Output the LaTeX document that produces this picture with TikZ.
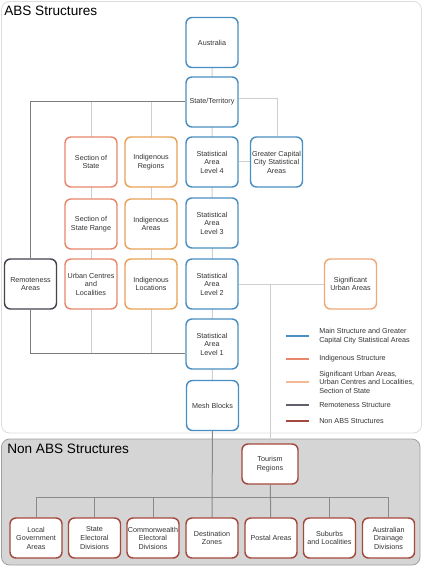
\documentclass[tikz,border=0pt]{standalone}
\usepackage{fontspec}
\setmainfont{Liberation Sans}
\definecolor{mainblue}{HTML}{4A8FC2}
\definecolor{sosorange}{HTML}{E8866C}
\definecolor{indorange}{HTML}{E8A257}
\definecolor{suaorange}{HTML}{F0A878}
\definecolor{remgray}{HTML}{45434F}
\definecolor{nonred}{HTML}{A4493D}
\definecolor{lightline}{HTML}{CFCFCF}
\definecolor{darkline}{HTML}{8A8A8A}
\definecolor{panelgray}{HTML}{D5D5D5}
\definecolor{panelborder}{HTML}{DDDDDD}
\definecolor{txt}{HTML}{333333}
\pgfdeclarelayer{background}
\pgfdeclarelayer{lines}
\pgfsetlayers{background,lines,main}
\begin{document}
\begin{tikzpicture}[x=0.75pt,y=-0.75pt,
    box/.style={draw,fill=white,rounded corners=4.5pt,line width=1.1pt,minimum width=39pt,minimum height=37.5pt,
      inner sep=0pt,align=center,text=txt,font=\fontsize{5.4}{6.4}\selectfont},
    mainbox/.style={box,draw=mainblue},
    sosbox/.style={box,draw=sosorange},
    indbox/.style={box,draw=indorange},
    suabox/.style={box,draw=suaorange},
    rembox/.style={box,draw=remgray},
    nonbox/.style={box,draw=nonred},
    title/.style={anchor=west,inner sep=0pt,text=black,font=\fontsize{10.2}{12}\selectfont},
    legtext/.style={anchor=west,inner sep=0pt,align=left,text=txt,font=\fontsize{5.4}{6.4}\selectfont},
    thin line/.style={lightline,line width=0.75pt},
    rem line/.style={darkline!90!black,line width=0.75pt},
    non line/.style={darkline,line width=0.75pt}]
  \useasboundingbox (0,0) rectangle (424,566);
  \begin{pgfonlayer}{background}
    \draw[panelborder,fill=white,rounded corners=6pt,line width=0.6pt] (1.5,1.5) rectangle (421.5,433);
    \draw[draw=darkline!80,fill=panelgray,rounded corners=6pt,line width=0.6pt] (1.5,439) rectangle (420,565);
  \end{pgfonlayer}
  \node[title] (abstitle) at (4,11) {ABS Structures};
  \node[title] (nontitle) at (7,449) {Non ABS Structures};

  \node[mainbox] (aus) at (212,42.5) {Australia};
  \node[mainbox] (ste) at (212,102) {State/Territory};
  \node[mainbox] (sa4) at (212,162) {Statistical\\Area\\Level 4};
  \node[mainbox] (gccsa) at (276.5,162) {Greater Capital\\City Statistical\\Areas};
  \node[indbox] (indreg) at (151,162) {Indigenous\\Regions};
  \node[sosbox] (sos) at (91,162) {Section of\\State};
  \node[sosbox] (sosr) at (91,224) {Section of\\State Range};
  \node[indbox] (indarea) at (151,224) {Indigenous\\Areas};
  \node[mainbox] (sa3) at (212,223) {Statistical\\Area\\Level 3};
  \node[rembox] (rem) at (30.5,284) {Remoteness\\Areas};
  \node[sosbox] (ucl) at (91,284) {Urban Centres\\and\\Localities};
  \node[indbox] (indloc) at (151,284) {Indigenous\\Locations};
  \node[mainbox] (sa2) at (212,284) {Statistical\\Area\\Level 2};
  \node[suabox] (sua) at (350.5,284) {Significant\\Urban Areas};
  \node[mainbox] (sa1) at (212,344) {Statistical\\Area\\Level 1};
  \node[mainbox] (mb) at (212.5,405.5) {Mesh Blocks};

  \node[nonbox,minimum width=42pt,minimum height=30pt] (tour) at (270,464) {Tourism\\Regions};
  \node[nonbox,minimum height=30pt] (lga) at (36,538) {Local\\Government\\Areas};
  \node[nonbox,minimum height=30pt] (sed) at (94.5,538) {State\\Electoral\\Divisions};
  \node[nonbox,minimum height=30pt] (ced) at (153,538) {Commonwealth\\Electoral\\Divisions};
  \node[nonbox,minimum height=30pt] (dz) at (212,538) {Destination\\Zones};
  \node[nonbox,minimum height=30pt] (pa) at (271,538) {Postal Areas};
  \node[nonbox,minimum height=30pt] (sl) at (329.5,538) {Suburbs\\and Localities};
  \node[nonbox,minimum height=30pt] (add) at (388.5,538) {Australian\\Drainage\\Divisions};

  \coordinate (remjoin) at ([yshift=-6.75pt]sa1.west);
  \coordinate (tourjoin) at (tour |- sa2);
  \coordinate (bus) at (212,497);
  \begin{pgfonlayer}{lines}
    \draw[thin line] (aus) -- (mb);
    \draw[thin line] ([yshift=2.25pt]ste.east) -| ([xshift=0.9pt]gccsa.north);
    \draw[thin line] (sa4) -- (gccsa);
    \draw[thin line] (sos |- ste) -- (sos |- remjoin);
    \draw[thin line] (indreg |- ste) -- (indreg |- remjoin);
    \draw[thin line] (sa2) -- (sua);
    \draw[thin line] (tourjoin) -- (tour);
    \draw[rem line] (ste) -| (rem.north);
    \draw[rem line] (rem.south) |- (remjoin);
    \draw[non line] (mb) -- (dz);
    \draw[non line] (tour) -- (pa);
    \draw[non line] (lga.north) -- (lga |- bus) -- (add |- bus) -- (add.north);
    \foreach \n in {sed,ced,sl}
      \draw[non line] (\n.north) -- (\n |- bus);
  \end{pgfonlayer}

  \foreach \c/\y/\t [count=\i] in {mainblue/336/{Main Structure and Greater\\Capital City Statistical Areas},
      sosorange/359/{Indigenous Structure},
      suaorange!80/382/{Significant Urban Areas,\\Urban Centres and Localities,\\Section of State},
      remgray!85/405/{Remoteness Structure},
      nonred/421/{Non ABS Structures}}
  {
    \coordinate (l\i a) at (286,\y);
    \coordinate (l\i b) at (309,\y);
    \draw[\c,line width=1.1pt] (l\i a) -- (l\i b);
    \node[legtext] (leg\i) at (319,\y) {\t};
  }
\end{tikzpicture}
\end{document}
